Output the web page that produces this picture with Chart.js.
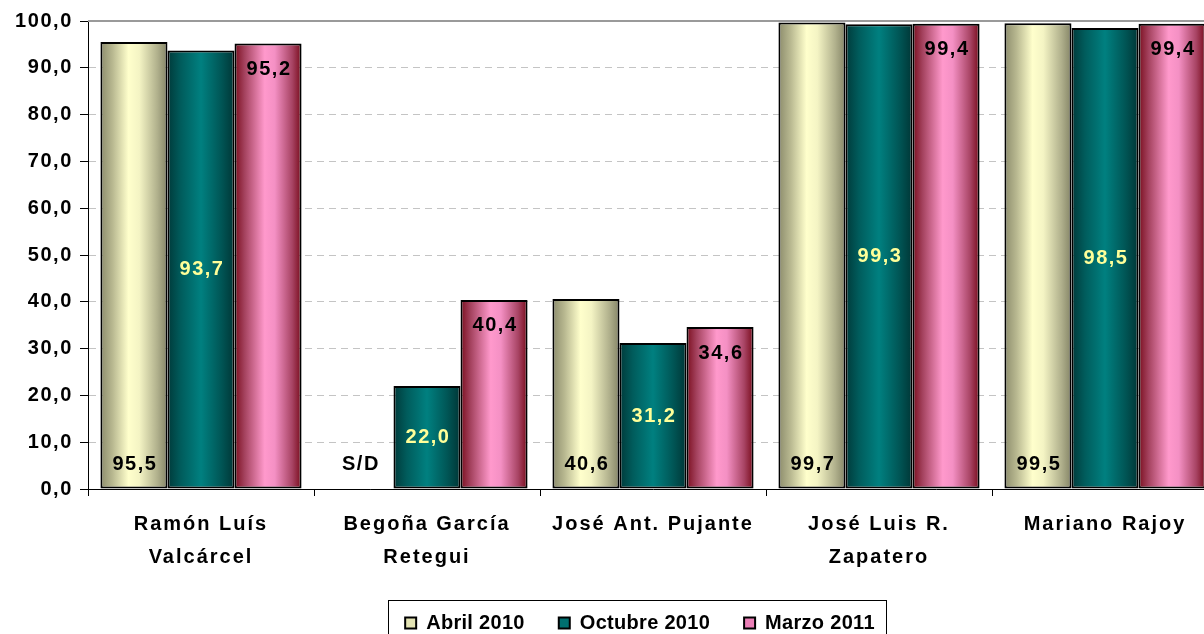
<!DOCTYPE html>
<html>
<head>
<meta charset="utf-8">
<script src="https://cdn.jsdelivr.net/npm/chart.js@4.4.1/dist/chart.umd.min.js"></script>
<style>
html,body{margin:0;padding:0;overflow:hidden;background:#fff;width:1204px;height:634px}
canvas{display:block}
</style>
</head>
<body>
<canvas id="c" width="1280" height="643"></canvas>
<script>
// ---- data ----
const categories = [['Ramón Luís', 'Valcárcel'], ['Begoña García', 'Retegui'], 'José Ant. Pujante', ['José Luis R.', 'Zapatero'], 'Mariano Rajoy'];
const seriesNames = ['Abril 2010', 'Octubre 2010', 'Marzo 2011'];
const abril2010 = [95.5, null, 40.6, 99.7, 99.5];
const octubre2010 = [93.7, 22.0, 31.2, 99.3, 98.5];
const marzo2011 = [95.2, 40.4, 34.6, 99.4, 99.4];
const missingLabel = 'S/D';
const yMin = 0, yMax = 100, yStep = 10;

// ---- style ----
const FONT = '"Liberation Sans", Arial, sans-serif';
const fmt = v => v.toFixed(1).replace('.', ',');

const palettes = [
  {fallback: '#e4e4b4', stops: [[0, '#8c8c6c'], [0.18, '#b8b890'], [0.42, '#ffffcc'], [0.58, '#f4f4c4'], [0.85, '#b0b08c'], [1, '#848466']]},
  {fallback: '#007070', stops: [[0, '#003a3a'], [0.2, '#005c5c'], [0.5, '#008080'], [0.8, '#005656'], [1, '#003636']]},
  {fallback: '#ec80b8', stops: [[0, '#7a0e1e'], [0.15, '#a4425e'], [0.45, '#ff99cc'], [0.6, '#f490c4'], [0.86, '#a84464'], [1, '#780a1a']]}
];

function withSpacing(obj, method, sp) {
  if (!obj || obj['_ws_' + method]) return;
  const orig = obj[method];
  obj[method] = function (...args) {
    const c = this.ctx;
    const prev = c.letterSpacing;
    c.letterSpacing = sp;
    try { return orig.apply(this, args); } finally { c.letterSpacing = prev; }
  };
  obj['_ws_' + method] = true;
}

const spacingPlugin = {
  id: 'spacing',
  beforeUpdate(chart) {
    withSpacing(chart.legend, 'fit', '0.3px');
    withSpacing(chart.legend, 'draw', '0.3px');
  },
  afterLayout(chart) {
    withSpacing(chart.scales.x, 'drawLabels', '2px');
    withSpacing(chart.scales.y, 'drawLabels', '1.6px');
  }
};

const cylinderPlugin = {
  id: 'cylinder',
  beforeDatasetsDraw(chart) {
    const ctx = chart.ctx;
    // plot-area top frame
    ctx.save();
    ctx.strokeStyle = '#9a9a9a';
    ctx.lineWidth = 2;
    ctx.beginPath();
    ctx.moveTo(chart.chartArea.left, chart.chartArea.top);
    ctx.lineTo(chart.chartArea.right, chart.chartArea.top);
    ctx.stroke();
    ctx.restore();
    chart.data.datasets.forEach((ds, di) => {
      const meta = chart.getDatasetMeta(di);
      const pal = palettes[ds.paletteIndex];
      meta.data.forEach(el => {
        const {x, width} = el.getProps(['x', 'width'], true);
        if (!isFinite(x) || !isFinite(width)) return;
        const g = ctx.createLinearGradient(x - width / 2, 0, x + width / 2, 0);
        pal.stops.forEach(([o, c]) => g.addColorStop(o, c));
        el.options.backgroundColor = g;
      });
    });
  },
  afterDatasetsDraw(chart) {
    const ctx = chart.ctx;
    const zero = chart.scales.y.getPixelForValue(0);
    ctx.save();
    ctx.letterSpacing = '1.5px';
    ctx.font = 'bold 20px ' + FONT;
    ctx.textAlign = 'center';
    ctx.textBaseline = 'middle';
    chart.data.datasets.forEach((ds, di) => {
      const meta = chart.getDatasetMeta(di);
      meta.data.forEach((el, i) => {
        const v = ds.data[i];
        const {x, y} = el.getProps(['x', 'y'], true);
        const text = v == null ? missingLabel : fmt(v);
        let ty;
        if (ds.labelPos === 'bottom') ty = zero - 25;
        else if (ds.labelPos === 'middle') ty = (y + zero) / 2;
        else ty = y + 26;
        ctx.fillStyle = ds.labelColor;
        ctx.fillText(text, x + 1, ty);
      });
    });
    ctx.restore();
  },
  afterDraw(chart) {
    const lg = chart.legend;
    if (!lg || !lg.legendHitBoxes || !lg.legendHitBoxes.length) return;
    const hb = lg.legendHitBoxes;
    const first = hb[0], last = hb[hb.length - 1];
    const cy = first.top + first.height / 2;
    const ctx = chart.ctx;
    ctx.save();
    ctx.strokeStyle = '#000';
    ctx.lineWidth = 1;
    ctx.strokeRect(Math.round(first.left - 17) + 0.5, Math.round(cy - 23) + 0.5,
      Math.round(last.left + last.width - first.left + 28), 48);
    ctx.restore();
  }
};

const fontBold = {family: FONT, size: 20, weight: 'bold'};

const datasets = [
  {label: seriesNames[0], data: abril2010, paletteIndex: 0, labelPos: 'bottom', labelColor: '#000'},
  {label: seriesNames[1], data: octubre2010, paletteIndex: 1, labelPos: 'middle', labelColor: '#ffff99'},
  {label: seriesNames[2], data: marzo2011, paletteIndex: 2, labelPos: 'top', labelColor: '#000'}
].map(d => Object.assign(d, {
  backgroundColor: ctx => palettes[d.paletteIndex].fallback,
  borderColor: '#000',
  borderWidth: 2,
  borderSkipped: false,
  categoryPercentage: 0.89,
  barPercentage: 1.0,
  yAxisID: 'y'
}));

new Chart(document.getElementById('c'), {
  type: 'bar',
  data: {labels: categories, datasets},
  options: {
    responsive: false,
    animation: false,
    devicePixelRatio: 1,
    layout: {padding: {top: 21, left: 0, right: 0, bottom: 0}},
    plugins: {
      legend: {
        position: 'bottom',
        labels: {font: fontBold, color: '#000', boxWidth: 11, boxHeight: 11, padding: 34}
      },
      tooltip: {enabled: false},
      title: {display: false}
    },
    scales: {
      x: {
        grid: {display: true, drawOnChartArea: false, drawTicks: true, tickLength: 7, tickColor: '#000', offset: true},
        border: {color: '#000', width: 1},
        ticks: {font: Object.assign({}, fontBold, {lineHeight: 1.65}), color: '#000', padding: 12, maxRotation: 0, minRotation: 0, autoSkip: false},
        afterFit(s) { s.height = 90; }
      },
      y: {
        position: 'left',
        min: yMin, max: yMax,
        ticks: {stepSize: yStep, callback: v => fmt(v), font: fontBold, color: '#000', padding: 7},
        grid: {color: '#c4c4c4', lineWidth: 1, drawTicks: true, tickLength: 8, tickColor: '#000', tickBorderDash: []},
        border: {color: '#000', width: 1, dash: [7, 5]},
        afterFit(s) { s.width = 88; }
      },
      spacer: {
        type: 'linear',
        position: 'right',
        display: true,
        grid: {display: false, drawTicks: false},
        ticks: {display: false},
        border: {display: false},
        afterFit(s) { s.width = 62; }
      }
    }
  },
  plugins: [spacingPlugin, cylinderPlugin]
});
</script>
</body>
</html>
